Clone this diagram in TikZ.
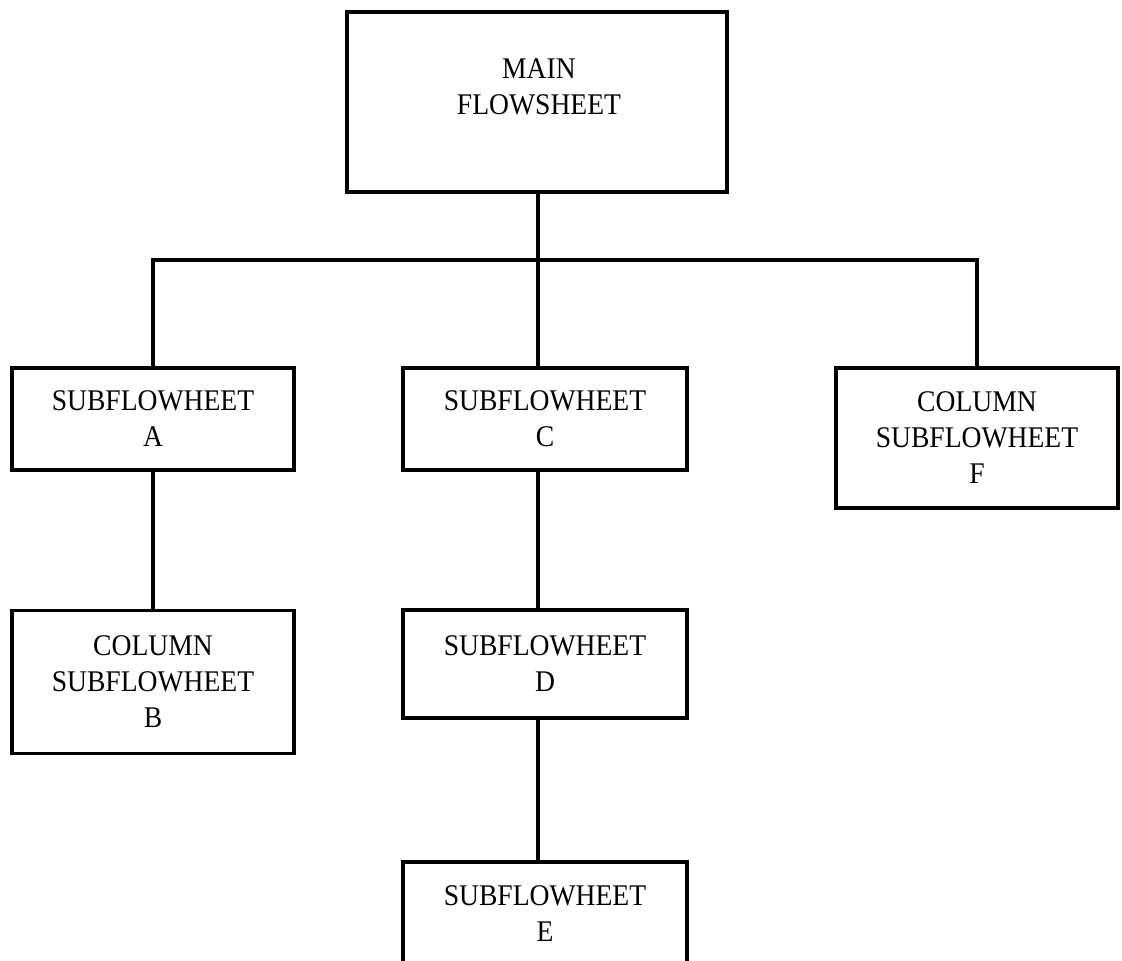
\documentclass[tikz,border=0pt]{standalone}
\usepackage{fontspec}
\newfontfamily\diagfont[FakeStretch=0.92]{Liberation Serif}
\begin{document}
\begin{tikzpicture}[x=1pt,y=-1pt,
  box/.style={draw=black,line width=3.2pt,rectangle,inner sep=0pt,align=center,
    font=\diagfont\fontsize{30}{36}\selectfont},
  lbl/.style={inner sep=0pt,align=center,font=\diagfont\fontsize{30}{36}\selectfont},
  conn/.style={draw=black,line width=3.2pt}]
\clip (0,0) rectangle (1122,961);
\fill[white] (0,0) rectangle (1122,961);
% main box
\node[box,minimum width=380pt,minimum height=180pt] (main) at (537,102) {};
\node[lbl] (mainlbl) at (539,87) {MAIN\\FLOWSHEET};
% level 1
\node[box,minimum width=282pt,minimum height=102pt] (A) at (153,419) {SUBFLOWHEET\\A};
\node[box,minimum width=284pt,minimum height=102pt] (C) at (545,419) {SUBFLOWHEET\\C};
\node[box,minimum width=282pt,minimum height=140pt] (F) at (977,438) {COLUMN\\SUBFLOWHEET\\F};
% level 2
\node[box,minimum width=282pt,minimum height=143pt] (B) at (153,682) {COLUMN\\SUBFLOWHEET\\B};
\node[box,minimum width=284pt,minimum height=108pt] (D) at (545,664) {SUBFLOWHEET\\D};
% level 3 (cut off at bottom)
\node[box,minimum width=284pt,minimum height=104pt] (E) at (545,914) {SUBFLOWHEET\\E};
% connectors
\coordinate (bus) at (538,260);
\draw[conn] (main.south -| bus) -- (bus);
\draw[conn] (A.north) |- (bus) -| (F.north);
\draw[conn] (bus) -- (bus |- C.north);
\draw[conn] (A.south) -- (B.north);
\draw[conn] (C.south -| bus) -- (D.north -| bus);
\draw[conn] (D.south -| bus) -- (E.north -| bus);
\end{tikzpicture}
\end{document}
